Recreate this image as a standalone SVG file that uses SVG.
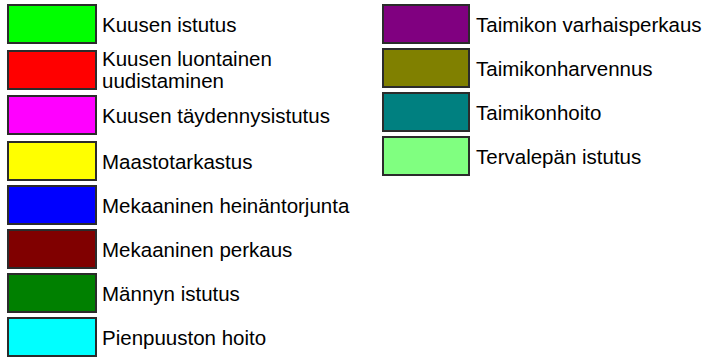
<svg xmlns="http://www.w3.org/2000/svg" width="716" height="357" viewBox="0 0 716 357">
<style>
.sw{stroke:#2b2b2b;stroke-width:2}
.lb{font-family:"Liberation Sans",Arial,sans-serif;font-size:20.5px;fill:#000}
</style>
<rect width="716" height="357" fill="#fff"/>
<g id="legend-left">
<g id="item-kuusen-istutus"><rect class="sw" x="8" y="5" width="88" height="38" fill="#00ff00"/><text class="lb" x="102" y="32">Kuusen istutus</text></g>
<g id="item-kuusen-luontainen"><rect class="sw" x="8" y="51" width="88" height="38" fill="#ff0000"/><text class="lb" x="102" y="66">Kuusen luontainen</text><text class="lb" x="102" y="88">uudistaminen</text></g>
<g id="item-kuusen-taydennys"><rect class="sw" x="8" y="96" width="88" height="38" fill="#ff00ff"/><text class="lb" x="102" y="123">Kuusen täydennysistutus</text></g>
<g id="item-maastotarkastus"><rect class="sw" x="8" y="142" width="88" height="38" fill="#ffff00"/><text class="lb" x="102" y="169">Maastotarkastus</text></g>
<g id="item-heinantorjunta"><rect class="sw" x="8" y="186" width="88" height="38" fill="#0000ff"/><text class="lb" x="102" y="213">Mekaaninen heinäntorjunta</text></g>
<g id="item-perkaus"><rect class="sw" x="8" y="230" width="88" height="38" fill="#800000"/><text class="lb" x="102" y="257">Mekaaninen perkaus</text></g>
<g id="item-mannyn-istutus"><rect class="sw" x="8" y="274" width="88" height="38" fill="#008000"/><text class="lb" x="102" y="301">Männyn istutus</text></g>
<g id="item-pienpuusto"><rect class="sw" x="8" y="318" width="88" height="38" fill="#00ffff"/><text class="lb" x="102" y="345">Pienpuuston hoito</text></g>
</g>
<g id="legend-right">
<g id="item-varhaisperkaus"><rect class="sw" x="383" y="5" width="86" height="38" fill="#800080"/><text class="lb" x="476" y="32">Taimikon varhaisperkaus</text></g>
<g id="item-harvennus"><rect class="sw" x="383" y="49" width="86" height="38" fill="#808000"/><text class="lb" x="476" y="76">Taimikonharvennus</text></g>
<g id="item-taimikonhoito"><rect class="sw" x="383" y="93" width="86" height="38" fill="#008080"/><text class="lb" x="476" y="120">Taimikonhoito</text></g>
<g id="item-tervalepa"><rect class="sw" x="383" y="137" width="86" height="38" fill="#80ff80"/><text class="lb" x="476" y="164">Tervalepän istutus</text></g>
</g>
<g id="connectors"/>
</svg>
